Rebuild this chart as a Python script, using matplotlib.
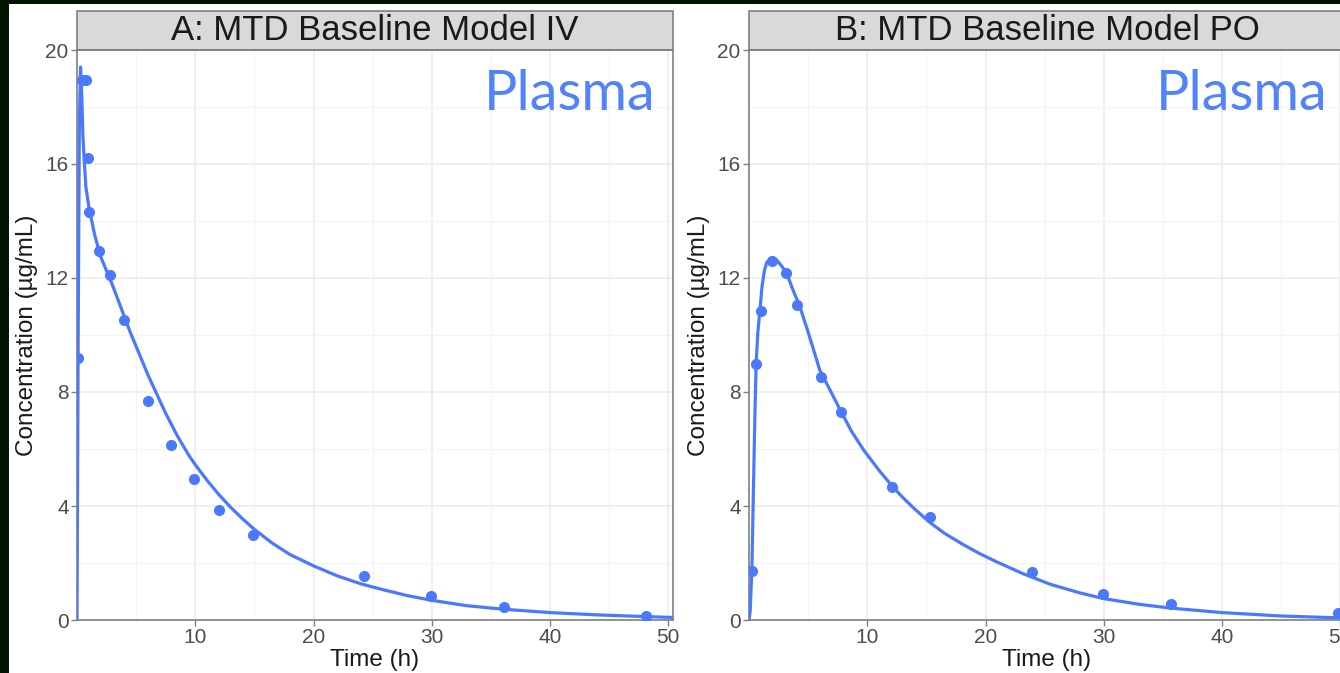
"""
MTD baseline model fits, IV and PO plasma concentrations
"""

import numpy as np
import matplotlib.pyplot as plt
from matplotlib.patches import Rectangle

###############################################################################
# Data
iv_obs_t = [0.08, 0.45, 0.75, 0.9, 1.05, 1.9, 2.8, 4.0, 5.97, 7.99, 9.9, 12.04, 14.9, 24.25, 29.9, 36.1, 48.1]
iv_obs_c = [9.2, 18.95, 18.95, 16.2, 14.3, 12.95, 12.1, 10.53, 7.68, 6.14, 4.95, 3.86, 2.97, 1.56, 0.84, 0.44, 0.15]

iv_fit_t = [0, 0.1, 0.2, 0.3, 0.4, 0.5, 0.6, 0.75, 1.0, 1.5, 2.0, 2.5, 3.0, 3.5, 4.0, 4.5, 5.0, 5.5, 6.0, 6.5,
            7.0, 7.5, 8.0, 8.5, 9.0, 9.5, 10.0, 11.0, 12.0, 13.0, 14.0, 15.0, 16.5, 18.0, 20.0,
            22.0, 24.0, 26.0, 28.0, 30.0, 33.0, 36.0, 40.0, 44.0, 48.0, 50.4]
iv_fit_c = [0, 10.0, 17.5, 19.4, 18.4, 17.0, 16.2, 15.2, 14.5, 13.5, 12.75, 12.25, 11.75, 11.2, 10.65, 10.1, 9.6, 9.1, 8.6, 8.15,
            7.7, 7.25, 6.85, 6.45, 6.1, 5.75, 5.45, 4.9, 4.4, 3.95, 3.55, 3.18, 2.7, 2.3, 1.9,
            1.55, 1.27, 1.05, 0.85, 0.69, 0.5, 0.38, 0.26, 0.18, 0.12, 0.09]

po_obs_t = [0.25, 0.6, 1.05, 1.95, 3.1, 4.1, 6.1, 7.8, 12.1, 15.3, 23.9, 29.9, 35.7, 49.8]
po_obs_c = [1.73, 9.0, 10.84, 12.6, 12.16, 11.05, 8.54, 7.29, 4.68, 3.6, 1.67, 0.91, 0.55, 0.26]

po_fit_t = [0, 0.1, 0.25, 0.36, 0.5, 0.6, 0.75, 0.93, 1.1, 1.3, 1.5, 1.9, 2.3, 2.8, 3.2, 3.7, 4.3, 5.0, 6.0,
            7.0, 7.8, 8.7, 9.7, 11.0, 12.1, 13.0, 14.0, 15.3, 16.5, 18.1, 19.5, 21.0, 23.2, 25.5, 28.0,
            30.0, 33.0, 35.6, 40.0, 45.0, 50.4]
po_fit_c = [0, 0.3, 1.9, 4.3, 7.2, 9.0, 10.1, 10.9, 11.7, 12.25, 12.55, 12.7, 12.65, 12.4, 12.15, 11.6, 11.0, 10.1, 8.75,
            7.95, 7.3, 6.6, 5.96, 5.25, 4.7, 4.3, 3.9, 3.42, 3.05, 2.65, 2.33, 2.03, 1.62, 1.25, 0.95,
            0.75, 0.55, 0.42, 0.26, 0.14, 0.07]

titles = ['A: MTD Baseline Model IV', 'B: MTD Baseline Model PO']
x_ticks = [10, 20, 30, 40, 50]
y_ticks = [0, 4, 8, 12, 16, 20]

#######################################################################
# Style
blue = '#4a78ff'
dark = '#011401'
W, H = 1340, 673
plt.rcParams['font.family'] = ['Liberation Sans', 'DejaVu Sans']

fig = plt.figure(figsize=(W / 100, H / 100), dpi=100, facecolor='white')
# dark frame on the left and top edges
fig.patches.append(Rectangle((0, 0), 9 / W, 1, transform=fig.transFigure,
                             facecolor=dark, edgecolor='none', zorder=-10))
fig.patches.append(Rectangle((0, 1 - 4 / H), 1, 4 / H, transform=fig.transFigure,
                             facecolor=dark, edgecolor='none', zorder=-10))

panels = [(77, iv_obs_t, iv_obs_c, iv_fit_t, iv_fit_c),
          (749, po_obs_t, po_obs_c, po_fit_t, po_fit_c)]

for k, (x0, ot, oc, ft, fc) in enumerate(panels):
    ax = fig.add_axes([x0 / W, 1 - 620 / H, 596 / W, 570 / H])
    ax.set_facecolor('white')
    ax.set_xlim(0, 50.4)
    ax.set_ylim(0, 20)

    ax.set_xticks(x_ticks)
    ax.set_xticks([5, 15, 25, 35, 45], minor=True)
    ax.set_yticks(y_ticks)
    ax.set_yticks([2, 6, 10, 14, 18], minor=True)
    ax.grid(True, which='major', color='#ebebeb', lw=1.1)
    ax.grid(True, which='minor', color='#f3f3f3', lw=0.8)
    ax.set_axisbelow(True)
    ax.tick_params(which='major', length=4, width=1, color='#7f7f7f',
                   labelsize=15, labelcolor='#4d4d4d', pad=2)
    ax.tick_params(which='minor', length=0)
    for s in ax.spines.values():
        s.set_color('#7f7f7f')
        s.set_linewidth(1.2)

    ax.plot(ft, fc, color=blue, lw=2.3, zorder=3)
    ax.plot(ot, oc, 'o', color=blue, ms=8, mec='none', zorder=4)

    ax.text(48.9, 17.9, 'Plasma', color='#5283ff', fontsize=40,
            family=['Lato', 'DejaVu Sans'], ha='right', va='baseline')

    ax.set_xlabel('Time (h)', fontsize=17.5, color='#1a1a1a', va='center')
    ax.xaxis.set_label_coords(0.5, -40 / 570)
    ax.set_ylabel('Concentration (\u00b5g/mL)', fontsize=17.5, color='#1a1a1a', va='center')
    ax.yaxis.set_label_coords(-50 / 596, 0.5)

    # strip
    ax.add_patch(Rectangle((0, 1), 1, 39 / 570, transform=ax.transAxes, clip_on=False,
                           facecolor='#d9d9d9', edgecolor='#7f7f7f', lw=1.2))
    ax.text(0.5, 1 + 19 / 570, titles[k], transform=ax.transAxes, ha='center',
            va='center', fontsize=25, color='#1a1a1a')

plt.savefig('out.png', dpi=100)
